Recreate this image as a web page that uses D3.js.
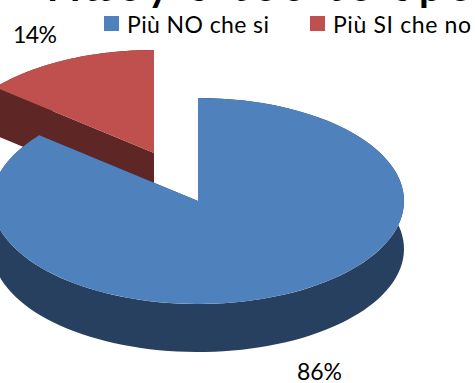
<!DOCTYPE html>
<html><head><meta charset="utf-8">
<script src="https://cdn.jsdelivr.net/npm/d3@7"></script>
<style>html,body{margin:0;padding:0;background:#fff}svg{display:block}text{font-family:Lato,sans-serif}</style>
</head><body><svg id="c" width="475" height="383"></svg>
<script>
const categories = ["Più NO che si", "Più SI che no"];
const values = [86, 14];
const labels = ["86%", "14%"];
const topColors = ["#4f81bd", "#c0504d"];
const sideColors = ["#28405f", "#5e2726"];
const titleText = "Attoy's tee te spe";

const rx = 206, ry = 103, depth = 48;
const svg = d3.select("#c");
const pie = d3.pie().sort(null).value(d => d)(values);
const offsets = [[198, 201], [154, 153]];
const arc = d3.arc().innerRadius(0).outerRadius(rx);
const pt = (a, c, dy = 0) => [c[0] + rx * Math.sin(a), c[1] - ry * Math.cos(a) + dy];
const line = d3.line();

svg.append("text").attr("x", 50).attr("y", 0.5)
  .attr("font-size", 40).attr("font-weight", 700).attr("fill", "#000")
  .attr("textLength", 420).text(titleText);

[1, 0].forEach(i => {
  const s = pie[i], c = offsets[i];
  const g = svg.append("g");
  const front = d3.range(0, 121).map(k => s.startAngle + (s.endAngle - s.startAngle) * k / 120);
  const rim = front.map(a => pt(a, c)).concat(front.slice().reverse().map(a => pt(a, c, depth)));
  g.append("path").attr("d", line(rim) + "Z").attr("fill", sideColors[i]);
  const wall = a => [c, pt(a, c), pt(a, c, depth), [c[0], c[1] + depth]];
  [s.startAngle, s.endAngle].forEach(a => {
    g.append("path").attr("d", line(wall(a)) + "Z").attr("fill", sideColors[i]);
  });
  g.append("path").attr("d", arc(s))
    .attr("transform", `translate(${c[0]},${c[1]}) scale(1,${ry / rx})`)
    .attr("fill", topColors[i]);
});

const legendX = [104, 310];
const legendWidths = [142, 138];
categories.forEach((n, i) => {
  svg.append("rect").attr("x", legendX[i]).attr("y", 16).attr("width", 15).attr("height", 15).attr("fill", topColors[i]);
  svg.append("text").attr("x", legendX[i] + 23).attr("y", 33).attr("font-size", 23)
    .attr("textLength", legendWidths[i]).attr("fill", "#000").text(n);
});
svg.append("text").attr("x", 35).attr("y", 43).attr("text-anchor", "middle").attr("font-size", 23).attr("textLength", 44).text(labels[1]);
svg.append("text").attr("x", 319.5).attr("y", 380).attr("text-anchor", "middle").attr("font-size", 23).attr("textLength", 45).text(labels[0]);
</script></body></html>
